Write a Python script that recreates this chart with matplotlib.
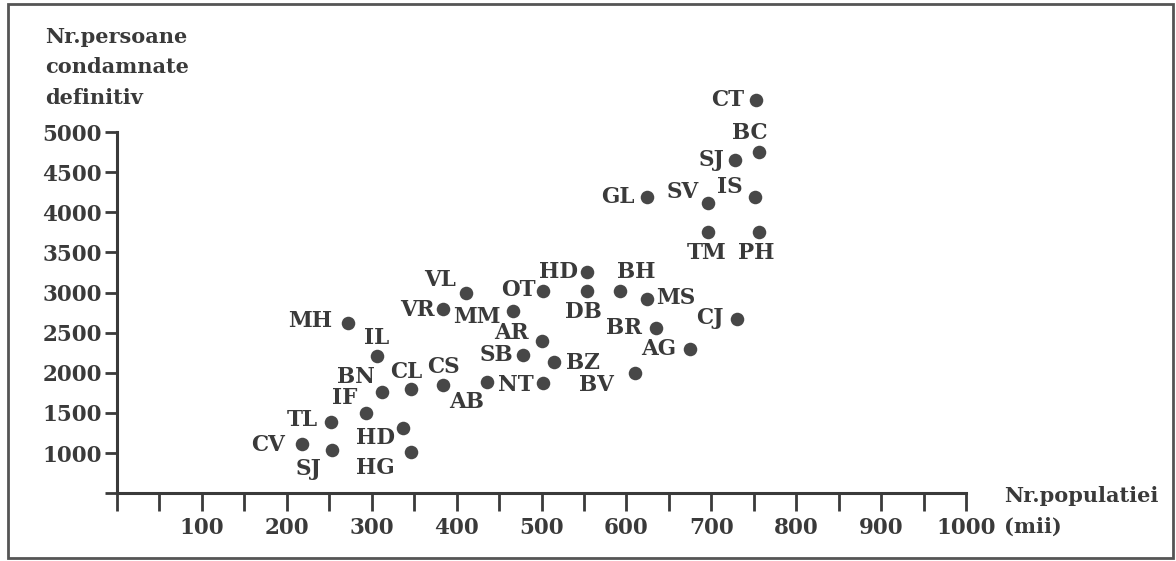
import numpy as np
import matplotlib.pyplot as plt
from matplotlib.patches import Rectangle

# judete: populatie (mii) vs persoane condamnate definitiv
codes = ["CT", "BC", "SJ", "GL", "SV", "IS", "TM", "PH",
         "HD", "BH", "VL", "OT", "DB", "MS", "VR", "MM",
         "MH", "AR", "BR", "CJ", "IL", "SB", "BZ", "AG",
         "CS", "BN", "CL", "IF", "AB", "NT", "BV", "TL",
         "HD", "CV", "SJ", "HG"]
populatie = [753, 756, 728, 624, 696, 751, 696, 756,
             554, 592, 411, 502, 554, 624, 384, 466,
             272, 501, 635, 730, 306, 478, 515, 675,
             384, 312, 346, 293, 436, 502, 610, 252,
             337, 218, 253, 346]
condamnati = [5400, 4750, 4650, 4190, 4115, 4190, 3754, 3754,
              3255, 3019, 2994, 3019, 3019, 2919, 2794, 2770,
              2620, 2396, 2558, 2670, 2209, 2221, 2134, 2296,
              1847, 1760, 1797, 1498, 1885, 1872, 1997, 1386,
              1312, 1112, 1037, 1012]

# label offsets in pixels (dx, dy) relative to the dot
label_off = [(-29, 0), (-9, 19), (-24, 0), (-29, 0), (-25, 11), (-25, 10), (-1, -21), (-3, -21),
             (-29, 0), (17, 19), (-26, 13), (-25, 1), (-4, -21), (29, 1), (-26, -1), (-36, -6),
             (-38, 2), (-31, 8), (-32, 0), (-27, 1), (0, 18), (-26, 0), (29, -1), (-31, 0),
             (0, 18), (-26, 15), (-5, 17), (-21, 15), (-21, -20), (-27, -2), (-38, -12), (-29, 2),
             (-28, -10), (-34, -1), (-23, -19), (-35, -16)]

yticks = [500, 1000, 1500, 2000, 2500, 3000, 3500, 4000, 4500, 5000]
xticks = list(range(0, 1001, 50))

ink = "#3a3a3a"
dot = "#474747"

plt.rcParams['font.family'] = "DejaVu Serif"
plt.rcParams['font.weight'] = 'bold'

fig = plt.figure(figsize=(11.76, 5.61), dpi=100)
ax = fig.add_axes([0, 0, 1, 1])
ax.set_xlim(-137.8, 1247.3)
ax.set_ylim(-345.8, 6644.9)
ax.patch.set_alpha(0)

# axes look
for s in ["top", "right"]:
    ax.spines[s].set_visible(False)
ax.spines["left"].set_position(("data", 0))
ax.spines["bottom"].set_position(("data", 500))
ax.spines["left"].set_bounds(500, 5000)
ax.spines["bottom"].set_bounds(0, 1000)
for s in ["left", "bottom"]:
    ax.spines[s].set_linewidth(2.2)
    ax.spines[s].set_color(ink)

ax.set_yticks(yticks)
ax.set_yticklabels(["" if v == 500 else str(v) for v in yticks])
ax.set_xticks(xticks)
ax.set_xticklabels([str(v) if v % 100 == 0 and v > 0 else "" for v in xticks])
ax.tick_params(axis="y", direction="out", length=9, width=2, color=ink,
               labelsize=15.5, labelcolor=ink, pad=2)
ax.tick_params(axis="x", direction="out", length=13, width=2, color=ink,
               labelsize=15.5, labelcolor=ink, pad=4)

ax.scatter(populatie, condamnati, s=95, color=dot, zorder=3, linewidths=0)

for c, x, y, (dx, dy) in zip(codes, populatie, condamnati, label_off):
    ax.annotate(c, (x, y), xytext=(dx, dy), textcoords="offset pixels",
                ha="center", va="center", fontsize=15.5, color=ink)

# axis titles
fig.text(45 / 1176, 1 - 37 / 561, "Nr.persoane", fontsize=15, color=ink, va="center", ha="left")
fig.text(45 / 1176, 1 - 67 / 561, "condamnate", fontsize=15, color=ink, va="center", ha="left")
fig.text(45 / 1176, 1 - 98 / 561, "definitiv", fontsize=15, color=ink, va="center", ha="left")
fig.text(1004 / 1176, 1 - 496 / 561, "Nr.populatiei", fontsize=15, color=ink, va="center", ha="left")
fig.text(1004 / 1176, 1 - 527 / 561, "(mii)", fontsize=15, color=ink, va="center", ha="left")

# outer frame
fig.patches.append(Rectangle((8 / 1176, 3 / 561), 1165 / 1176, 554 / 561,
                             transform=fig.transFigure, fill=False,
                             edgecolor="#555555", linewidth=2))

fig.savefig("out.png", dpi=100, facecolor="white")
